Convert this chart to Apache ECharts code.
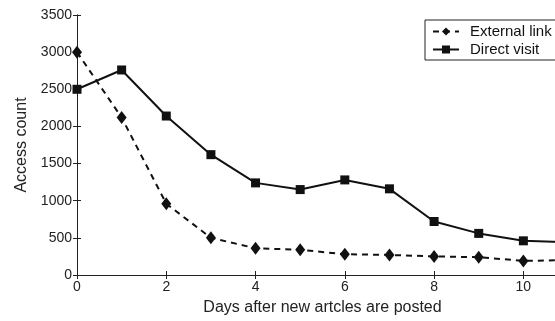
<!DOCTYPE html>
<html>
<head>
<meta charset="utf-8">
<script src="https://cdn.jsdelivr.net/npm/echarts@6/dist/echarts.min.js"></script>
<style>
  html, body { margin: 0; padding: 0; overflow: hidden; background: #fff; }
  #chart { width: 580px; height: 321px; }
</style>
</head>
<body>
<div id="chart"></div>
<script>
const days = [0, 1, 2, 3, 4, 5, 6, 7, 8, 9, 10, 11];
const externalLink = [3000, 2120, 960, 500, 360, 340, 280, 270, 250, 240, 190, 200];
const directVisit = [2500, 2760, 2140, 1620, 1240, 1150, 1280, 1160, 720, 560, 460, 440];
const seriesNames = ["External link", "Direct visit"];

const font = "Liberation Sans, Arial, sans-serif";

const toPairs = (vals) => vals.map((v, i) => [days[i], v]);

const chart = echarts.init(document.getElementById("chart"));

const options = {
  animation: false,
  backgroundColor: "#fff",
  grid: { left: 77, top: 15, right: 12, bottom: 45 },
  legend: {
    left: 425,
    top: 20,
    orient: "vertical",
    itemWidth: 26,
    itemHeight: 10,
    itemGap: 3,
    padding: [4, 30, 3, 7],
    borderColor: "#222",
    borderWidth: 1,
    backgroundColor: "#fff",
    textStyle: { fontFamily: font, fontSize: 15, color: "#111", padding: [0, 0, 0, 6] },
    data: seriesNames,
  },
  xAxis: [
    {
      type: "value",
      min: 0,
      max: 11,
      interval: 2,
      name: "Days after new artcles are posted",
      nameLocation: "middle",
      nameGap: 25,
      nameTextStyle: { fontFamily: font, fontSize: 16, color: "#222" },
      axisLine: { lineStyle: { color: "#222", width: 1 } },
      axisTick: { inside: true, length: 4, lineStyle: { color: "#222" } },
      axisLabel: { fontFamily: font, fontSize: 14, color: "#222", margin: 5 },
      splitLine: { show: false },
    },
    {
      type: "value",
      position: "top",
      min: 0,
      max: 11,
      interval: 2,
      axisLine: { show: true, lineStyle: { color: "#222", width: 1 } },
      axisTick: { inside: true, length: 4, lineStyle: { color: "#222" } },
      axisLabel: { show: false },
      splitLine: { show: false },
    },
  ],
  yAxis: [
    {
      type: "value",
      min: 0,
      max: 3500,
      interval: 500,
      name: "Access count",
      nameLocation: "middle",
      nameGap: 44,
      nameTextStyle: { fontFamily: font, fontSize: 16, color: "#222" },
      axisLine: { show: true, lineStyle: { color: "#222", width: 1 } },
      axisTick: { show: true, inside: true, length: 4, lineStyle: { color: "#222" } },
      axisLabel: {
        fontFamily: font, fontSize: 14, color: "#222", margin: 5,
        formatter: (v) => String(v),
      },
      splitLine: { show: false },
    },
    {
      type: "value",
      position: "right",
      min: 0,
      max: 3500,
      interval: 500,
      axisLine: { show: true, lineStyle: { color: "#222", width: 1 } },
      axisTick: { show: true, inside: true, length: 4 },
      axisLabel: { show: false },
      splitLine: { show: false },
    },
  ],
  series: [
    {
      name: seriesNames[0],
      type: "line",
      data: toPairs(externalLink),
      symbol: "diamond",
      symbolSize: [10, 13],
      itemStyle: { color: "#111" },
      lineStyle: { color: "#111", width: 2, type: [6, 5] },
    },
    {
      name: seriesNames[1],
      type: "line",
      data: toPairs(directVisit),
      symbol: "rect",
      symbolSize: 9,
      itemStyle: { color: "#111" },
      lineStyle: { color: "#111", width: 2 },
    },
  ],
};

chart.setOption(options);
</script>
</body>
</html>
